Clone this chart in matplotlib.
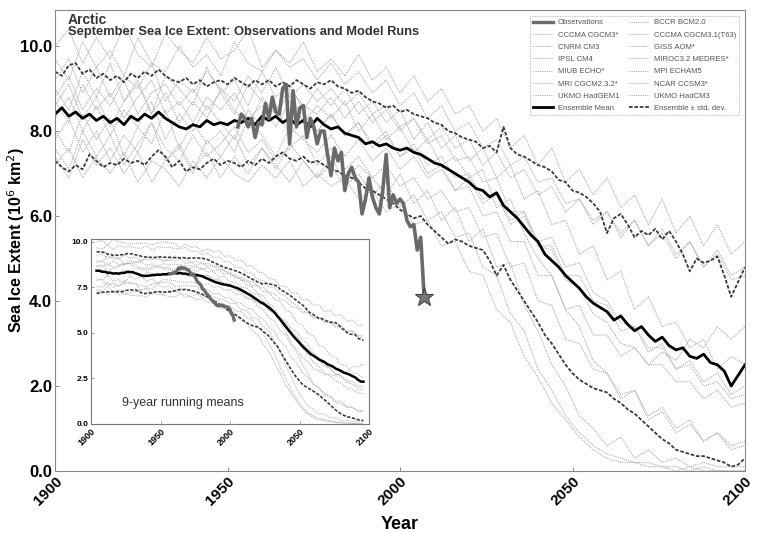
import numpy as np
import matplotlib
matplotlib.use("Agg")
import matplotlib.pyplot as plt
from matplotlib.lines import Line2D

plt.rcParams['font.family'] = ['Liberation Sans', 'DejaVu Sans']

# ensemble statistics, every 2 years 1900-2100
years2 = np.arange(1900, 2101, 2)
ens_mean = [
    8.40, 8.55, 8.35, 8.45, 8.30, 8.40, 8.25, 8.35, 8.20, 8.30,
    8.15, 8.35, 8.25, 8.40, 8.30, 8.45, 8.30, 8.20, 8.10, 8.05,
    8.15, 8.10, 8.25, 8.15, 8.20, 8.15, 8.25, 8.20, 8.30, 8.15,
    8.35, 8.25, 8.35, 8.20, 8.30, 8.15, 8.25, 8.10, 8.30, 8.15,
    8.05, 8.10, 7.95, 7.90, 7.85, 7.70, 7.75, 7.65, 7.70, 7.60,
    7.55, 7.60, 7.50, 7.45, 7.35, 7.25, 7.20, 7.10, 7.00, 6.90,
    6.80, 6.65, 6.60, 6.45, 6.55, 6.25, 6.10, 5.95, 5.75, 5.55,
    5.40, 5.10, 4.95, 4.80, 4.60, 4.45, 4.30, 4.10, 3.95, 3.85,
    3.75, 3.55, 3.65, 3.45, 3.30, 3.40, 3.20, 3.05, 3.15, 2.95,
    2.85, 2.90, 2.70, 2.65, 2.75, 2.55, 2.50, 2.35, 2.00, 2.25,
    2.50]
ens_upper = [
    9.40, 9.30, 9.55, 9.60, 9.35, 9.45, 9.25, 9.35, 9.20, 9.30,
    9.15, 9.35, 9.25, 9.40, 9.30, 9.45, 9.30, 9.20, 9.15, 9.25,
    9.10, 9.20, 9.05, 9.15, 9.20, 9.10, 9.25, 9.15, 9.05, 9.20,
    9.10, 9.20, 9.05, 9.15, 9.05, 9.20, 9.10, 9.00, 9.15, 9.10,
    9.20, 9.05, 9.00, 8.90, 8.95, 8.80, 8.70, 8.65, 8.55, 8.60,
    8.45, 8.50, 8.40, 8.35, 8.30, 8.20, 8.15, 8.00, 7.95, 7.85,
    7.80, 7.75, 7.60, 7.65, 7.50, 8.10, 7.60, 7.45, 7.40, 7.30,
    7.20, 7.15, 7.05, 6.85, 6.80, 6.60, 6.55, 6.45, 6.30, 6.10,
    5.60, 5.95, 6.05, 5.80, 5.50, 5.65, 5.55, 5.70, 5.45, 5.65,
    5.40, 5.10, 4.70, 5.00, 4.90, 4.95, 5.05, 4.60, 4.10, 4.45,
    4.80]
ens_lower = [
    7.30, 7.15, 7.05, 7.20, 7.10, 7.45, 7.30, 7.15, 7.25, 7.20,
    7.35, 7.25, 7.30, 7.20, 7.40, 7.55, 7.40, 7.15, 7.30, 7.05,
    7.15, 7.10, 7.25, 7.35, 7.20, 7.30, 7.25, 7.15, 7.30, 7.20,
    7.35, 7.25, 7.40, 7.50, 7.35, 7.30, 7.40, 7.25, 7.30, 7.20,
    7.10, 7.05, 6.95, 6.90, 6.80, 6.65, 6.60, 6.50, 6.40, 6.30,
    6.15, 6.05, 5.95, 6.00, 5.80, 5.65, 5.50, 5.35, 5.45, 5.40,
    5.30, 5.25, 5.20, 4.95, 4.60, 4.85, 4.50, 4.25, 4.00, 3.75,
    3.50, 3.20, 3.00, 2.75, 2.50, 2.30, 2.15, 2.05, 1.95, 1.90,
    1.85, 1.70, 1.60, 1.45, 1.35, 1.20, 1.05, 0.90, 0.75, 0.65,
    0.50, 0.45, 0.40, 0.35, 0.35, 0.30, 0.25, 0.20, 0.10, 0.15,
    0.30]

# observations 1953-2007
obs_years = np.arange(1953, 2008)
obs = [8.10, 8.40, 8.30, 8.10, 8.30, 7.85, 8.20, 8.15, 8.65, 8.30,
       8.80, 8.45, 8.40, 9.00, 9.10, 7.70, 8.95, 8.10, 8.55, 8.60,
       7.85, 8.30, 8.10, 7.70, 8.00, 8.00, 7.45, 6.95, 7.60, 7.30,
       7.50, 6.60, 7.00, 7.15, 6.90, 6.80, 6.05, 6.40, 6.90, 6.45,
       6.20, 6.05, 6.60, 7.45, 6.20, 6.50, 6.30, 6.40, 6.30, 5.90,
       5.75, 5.80, 5.20, 5.50, 4.10]

# model runs, every 4 years 1900-2100
years4 = np.arange(1900, 2101, 4)
models = {
    "CCCMA CGCM3*": [
        10.0, 10.4, 9.6, 10.2, 9.7, 10.5, 9.8, 9.5, 10.3, 9.9,
        9.6, 10.2, 9.7, 9.9, 10.4, 9.5, 9.9, 9.6, 10.1, 9.4,
        9.7, 9.3, 9.8, 9.2, 9.5, 8.9, 9.3, 8.7, 9.0, 8.4,
        8.6, 8.0, 8.3, 7.6, 7.9, 7.2, 7.6, 6.8, 7.1, 6.5,
        6.9, 6.2, 6.5, 5.8, 6.4, 5.6, 6.0, 5.3, 5.8, 5.1, 5.4],
    "CNRM CM3": [
        7.6, 7.1, 8.0, 7.4, 7.9, 7.2, 7.7, 8.2, 7.3, 7.6,
        7.0, 7.8, 7.4, 7.9, 7.2, 7.6, 7.1, 7.7, 7.3, 6.9,
        7.4, 6.8, 7.2, 6.9, 6.5, 7.0, 6.3, 6.6, 5.9, 6.2,
        5.4, 5.7, 4.8, 4.9, 3.9, 3.3, 2.5, 2.0, 1.3, 1.0,
        0.6, 0.8, 0.3, 0.5, 0.2, 0.3, 0.1, 0.2, 0.1, 0.1, 0.1],
    "IPSL CM4": [
        8.6, 9.1, 8.3, 8.8, 8.1, 8.7, 9.2, 8.4, 8.9, 8.2,
        8.7, 8.3, 9.0, 8.5, 8.1, 8.8, 8.4, 8.9, 8.2, 8.6,
        8.3, 8.7, 8.0, 8.4, 7.8, 8.1, 7.5, 7.8, 7.2, 7.4,
        6.9, 7.1, 6.2, 6.4, 5.6, 5.0, 4.6, 3.8, 3.4, 2.6,
        2.3, 1.7, 1.9, 1.2, 1.4, 0.9, 1.1, 0.7, 0.9, 0.5, 0.6],
    "MIUB ECHO*": [
        9.0, 8.5, 9.4, 8.8, 9.6, 8.7, 9.1, 8.4, 9.3, 9.0,
        8.6, 9.5, 8.9, 9.2, 8.6, 9.4, 8.8, 9.1, 8.5, 9.0,
        8.6, 9.0, 8.4, 8.7, 8.2, 8.5, 7.8, 8.2, 7.6, 7.9,
        7.3, 7.6, 6.9, 7.2, 6.4, 6.6, 5.8, 5.9, 5.1, 5.3,
        4.5, 4.7, 3.8, 4.1, 3.4, 3.5, 2.9, 3.1, 2.4, 2.7, 2.5],
    "MRI CGCM2.3.2*": [
        8.0, 7.5, 8.4, 7.8, 8.3, 7.4, 8.1, 7.7, 8.5, 7.6,
        8.2, 7.7, 8.0, 7.5, 8.3, 7.9, 7.4, 8.1, 7.8, 7.5,
        7.9, 7.4, 7.8, 7.3, 7.6, 7.1, 7.4, 6.9, 7.1, 6.6,
        6.9, 6.3, 6.5, 5.9, 6.1, 5.4, 5.5, 4.8, 4.9, 4.2,
        4.0, 3.5, 3.4, 2.9, 2.9, 2.4, 2.5, 2.0, 2.1, 1.7, 1.8],
    "UKMO HadGEM1": [
        7.8, 8.3, 7.5, 8.0, 7.3, 7.9, 7.5, 8.2, 7.6, 7.3,
        7.9, 7.4, 7.7, 8.1, 7.5, 7.8, 7.3, 7.6, 7.9, 7.2,
        7.6, 7.1, 7.4, 6.9, 7.2, 6.7, 6.9, 6.4, 6.6, 6.1,
        6.2, 5.5, 5.6, 4.8, 4.9, 4.0, 3.9, 3.1, 3.0, 2.4,
        2.3, 1.8, 1.9, 1.3, 1.5, 1.0, 1.2, 0.7, 0.9, 0.6, 0.7],
    "BCCR BCM2.0": [
        8.3, 8.8, 8.0, 8.6, 7.9, 8.5, 8.1, 8.7, 7.8, 8.4,
        8.0, 8.6, 8.2, 7.8, 8.5, 8.1, 8.6, 7.9, 8.3, 8.0,
        8.4, 7.9, 8.2, 7.7, 8.0, 7.4, 7.7, 7.2, 7.4, 6.9,
        7.0, 6.4, 6.5, 5.8, 6.0, 5.3, 5.3, 4.6, 4.6, 4.0,
        3.9, 3.3, 3.4, 2.8, 3.0, 2.4, 2.6, 2.1, 2.3, 1.8, 2.0],
    "CCCMA CGCM3.1(T63)": [
        9.7, 9.2, 10.1, 9.5, 9.9, 9.3, 10.2, 9.6, 9.4, 10.0,
        9.5, 9.8, 9.3, 10.1, 9.6, 9.4, 9.9, 9.5, 9.7, 9.2,
        9.6, 9.1, 9.4, 8.9, 9.2, 8.6, 8.9, 8.3, 8.6, 8.0,
        8.2, 7.6, 7.8, 7.2, 7.4, 6.8, 6.9, 6.3, 6.4, 5.9,
        6.1, 5.6, 5.9, 5.3, 5.7, 5.1, 5.4, 4.8, 5.1, 4.5, 4.6],
    "GISS AOM*": [
        8.8, 9.3, 8.5, 9.0, 8.6, 9.2, 8.4, 8.9, 9.1, 8.6,
        9.0, 8.5, 8.9, 8.4, 9.1, 8.7, 8.5, 9.0, 8.6, 8.4,
        8.8, 8.3, 8.7, 8.2, 8.5, 8.0, 8.3, 7.8, 8.1, 7.6,
        7.8, 7.2, 7.5, 6.9, 7.1, 6.5, 6.7, 6.1, 6.4, 5.8,
        6.1, 5.5, 5.9, 5.3, 5.6, 5.0, 5.4, 4.8, 5.2, 4.6, 4.8],
    "MIROC3.2 MEDRES*": [
        7.4, 6.9, 7.8, 7.2, 7.6, 7.0, 7.5, 6.8, 7.3, 7.7,
        7.1, 7.5, 6.9, 7.4, 7.0, 7.6, 7.2, 6.8, 7.3, 6.9,
        7.2, 6.7, 7.0, 6.5, 6.8, 6.2, 6.5, 5.9, 6.1, 5.5,
        5.6, 4.8, 4.6, 3.7, 3.3, 2.4, 1.9, 1.3, 0.9, 0.6,
        0.4, 0.3, 0.2, 0.2, 0.1, 0.1, 0.0, 0.1, 0.0, 0.0, 0.0],
    "MPI ECHAM5": [
        9.2, 9.7, 8.9, 9.5, 8.8, 9.3, 9.0, 9.6, 8.7, 9.2,
        8.9, 9.4, 9.0, 8.7, 9.3, 8.9, 9.5, 8.8, 9.1, 8.7,
        9.0, 8.6, 8.9, 8.4, 8.6, 8.1, 8.3, 7.7, 7.9, 7.3,
        7.4, 6.8, 6.9, 6.1, 6.1, 5.3, 5.2, 4.5, 4.3, 3.7,
        3.5, 3.0, 2.9, 2.5, 2.5, 2.1, 2.1, 1.7, 1.9, 1.5, 1.6],
    "NCAR CCSM3*": [
        7.2, 7.6, 6.9, 7.4, 7.0, 7.5, 6.8, 7.3, 7.1, 6.7,
        7.3, 6.9, 7.4, 7.0, 6.8, 7.2, 6.9, 7.3, 6.7, 7.0,
        6.7, 6.9, 6.4, 6.6, 6.1, 6.3, 5.8, 5.9, 5.3, 5.4,
        4.7, 4.6, 3.8, 3.5, 2.7, 2.2, 1.6, 1.2, 0.8, 0.5,
        0.3, 0.2, 0.2, 0.1, 0.1, 0.0, 0.1, 0.0, 0.0, 0.0, 0.0],
    "UKMO HadCM3": [
        8.7, 8.2, 9.1, 8.5, 8.9, 8.3, 8.8, 9.2, 8.4, 8.7,
        8.2, 8.8, 8.5, 8.9, 8.3, 8.6, 8.1, 8.7, 8.4, 8.0,
        8.4, 7.9, 8.2, 7.6, 7.9, 7.4, 7.6, 7.0, 7.2, 6.6,
        6.7, 6.0, 6.1, 5.4, 5.4, 4.6, 4.6, 3.8, 3.9, 3.2,
        3.2, 2.7, 2.9, 2.5, 2.8, 2.6, 3.1, 2.9, 3.4, 3.1, 3.4],
}

# legend layout, filled column by column
legend_left = ["Observations", "CCCMA CGCM3*", "CNRM CM3", "IPSL CM4", "MIUB ECHO*",
               "MRI CGCM2.3.2*", "UKMO HadGEM1", "Ensemble Mean"]
legend_right = ["BCCR BCM2.0", "CCCMA CGCM3.1(T63)", "GISS AOM*", "MIROC3.2 MEDRES*",
                "MPI ECHAM5", "NCAR CCSM3*", "UKMO HadCM3", "Ensemble \u00b1 std. dev."]

model_color = '#adadad'
obs_color = '#6a6a6a'
std_color = '#3a3a3a'


def running(x, y, n):
    y = np.asarray(y, dtype=float)
    k = np.ones(n) / n
    return np.convolve(x, k, mode='valid'), np.convolve(y, k, mode='valid')


def draw(ax, step_mean, step_model, step_obs, lw_scale=1.0):
    for name, vals in models.items():
        x, y = running(years4, vals, step_model)
        ax.plot(x, y, ls=(0, (1, 1)), color=model_color, lw=0.8 * lw_scale)
    x, y = running(years2, ens_upper, step_mean)
    ax.plot(x, y, ls=(0, (2, 1)), color=std_color, lw=1.3 * lw_scale)
    x, y = running(years2, ens_lower, step_mean)
    ax.plot(x, y, ls=(0, (2, 1)), color=std_color, lw=1.3 * lw_scale)
    x, y = running(years2, ens_mean, step_mean)
    ax.plot(x, y, color='black', lw=2.0 * lw_scale)
    x, y = running(obs_years, obs, step_obs)
    ax.plot(x, y, color=obs_color, lw=2.6 * lw_scale)


fig = plt.figure(figsize=(7.57, 5.33), dpi=100)
ax = fig.add_axes([55 / 757, 62 / 533, 690 / 757, 461 / 533])
draw(ax, 1, 1, 1)
ax.plot(obs_years[-1], obs[-1], marker='*', ms=14, color='#777777', mec='#444444', mew=0.8)

ax.set_xlim(1900, 2100)
ax.set_ylim(0, 10.85)
ax.set_xticks([1900, 1950, 2000, 2050, 2100])
ax.set_yticks([0, 2, 4, 6, 8, 10])
ax.set_yticklabels(['0.0', '2.0', '4.0', '6.0', '8.0', '10.0'], fontsize=12, fontweight='bold')
ax.set_xticklabels(['1900', '1950', '2000', '2050', '2100'], rotation=45, fontsize=11,
                   fontweight='bold', ha='right', rotation_mode='anchor')
ax.tick_params(direction='in', length=3, width=0.6, color='#777777', pad=2)
for s in ax.spines.values():
    s.set_color('#888888')
    s.set_linewidth(0.8)
ax.set_xlabel('Year', fontsize=13, fontweight='bold', labelpad=6)
ax.set_ylabel('Sea Ice Extent (10$^6$ km$^2$)', fontsize=11.5, fontweight='bold')
ax.yaxis.set_label_coords(-0.040, 0.5)

ax.text(0.019, 0.993, 'Arctic', transform=ax.transAxes, fontsize=10, fontweight='bold',
        color='#333333', va='top')
ax.text(0.019, 0.965, 'September Sea Ice Extent: Observations and Model Runs',
        transform=ax.transAxes, fontsize=9.3, fontweight='bold', color='#333333', va='top')

# legend
handles = {}
handles["Observations"] = Line2D([], [], color=obs_color, lw=2.4)
handles["Ensemble Mean"] = Line2D([], [], color='black', lw=2.0)
handles["Ensemble \u00b1 std. dev."] = Line2D([], [], color=std_color, lw=1.3, ls=(0, (2, 1)))
for name in models:
    handles[name] = Line2D([], [], color=model_color, lw=0.8, ls=(0, (1, 1)))
order = legend_left + legend_right
leg = ax.legend([handles[n] for n in order], order, ncol=2, loc='upper right',
                bbox_to_anchor=(0.997, 0.996), fontsize=5.6, frameon=True, fancybox=False,
                handlelength=2.6, handletextpad=0.6, columnspacing=1.2, labelspacing=0.62,
                borderpad=0.4, labelcolor='#555555')
leg.get_frame().set_edgecolor('#999999')
leg.get_frame().set_linewidth(0.6)
leg.get_frame().set_linestyle((0, (1, 1)))

# inset with 9-year running means
ins = fig.add_axes([91 / 757, (533 - 424) / 533, 278 / 757, 185 / 533])
draw(ins, 5, 3, 9, lw_scale=0.9)
ins.set_xlim(1900, 2100)
ins.set_ylim(0, 10.15)
ins.set_xticks([1900, 1950, 2000, 2050, 2100])
ins.set_xticklabels(['1900', '1950', '2000', '2050', '2100'], rotation=45, fontsize=6.5,
                    fontweight='bold', ha='right', rotation_mode='anchor')
ins.set_yticks([0, 2.5, 5, 7.5, 10])
ins.set_yticklabels(['0.0', '2.5', '5.0', '7.5', '10.0'], fontsize=6, fontweight='bold')
ins.tick_params(direction='in', length=2, width=0.5, color='#777777', pad=2)
for s in ins.spines.values():
    s.set_color('#777777')
    s.set_linewidth(0.8)
ins.text(0.11, 0.114, '9-year running means', transform=ins.transAxes, fontsize=9,
         color='#333333', va='center')

fig.savefig('out.png', dpi=100)
